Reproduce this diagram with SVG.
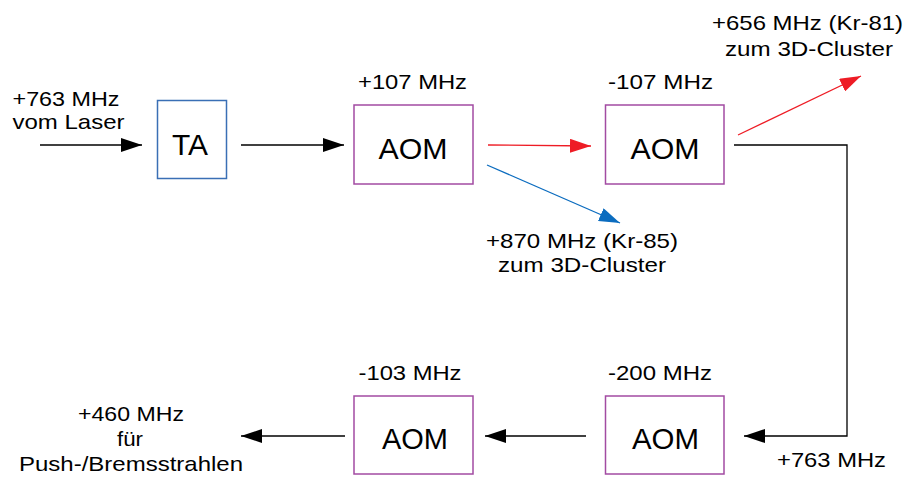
<svg xmlns="http://www.w3.org/2000/svg" width="906" height="477" viewBox="0 0 906 477">
<defs>
<style>
text{font-family:"Liberation Sans",Arial,sans-serif;fill:#000}
.lbl{font-size:21px}
.big{font-size:29px;text-anchor:middle}
.m{text-anchor:middle}
.aom{fill:#fff;stroke:#a24ba2;stroke-width:1.5}
.ta{fill:#fff;stroke:#3a6fb5;stroke-width:1.5}
.c{fill:none;stroke-width:1.3}
</style>
<marker id="ab" viewBox="0 0 21 14" refX="21" refY="7" markerWidth="21" markerHeight="14" markerUnits="userSpaceOnUse" orient="auto"><path d="M0,0 L21,7 L0,14 Z" fill="#000"/></marker>
<marker id="ar" viewBox="0 0 21 14" refX="21" refY="7" markerWidth="21" markerHeight="14" markerUnits="userSpaceOnUse" orient="auto"><path d="M0,0 L21,7 L0,14 Z" fill="#ee1c25"/></marker>
<marker id="au" viewBox="0 0 21 14" refX="21" refY="7" markerWidth="21" markerHeight="14" markerUnits="userSpaceOnUse" orient="auto"><path d="M0,0 L21,7 L0,14 Z" fill="#0b6cbf"/></marker>
</defs>
<g id="connectors">
<path class="c" stroke="#000" d="M40,145 L142,145" marker-end="url(#ab)"/>
<path class="c" stroke="#000" d="M241,145 L344,145" marker-end="url(#ab)"/>
<path class="c" stroke="#ee1c25" d="M488,145 L591,146" marker-end="url(#ar)"/>
<path class="c" stroke="#0b6cbf" d="M487,165 L620,223" marker-end="url(#au)"/>
<path class="c" stroke="#ee1c25" d="M738,135 L861,76" marker-end="url(#ar)"/>
<path class="c" stroke="#000" d="M734,145 L847,145 L847,436 L744,436" marker-end="url(#ab)"/>
<path class="c" stroke="#000" d="M586,436 L485,436" marker-end="url(#ab)"/>
<path class="c" stroke="#000" d="M345,436 L241,436" marker-end="url(#ab)"/>
</g>
<g id="input-label">
<text class="lbl" x="12.5" y="106" textLength="107" lengthAdjust="spacingAndGlyphs">+763 MHz</text>
<text class="lbl" x="12.5" y="129" textLength="112" lengthAdjust="spacingAndGlyphs">vom Laser</text>
</g>
<g id="ta">
<rect class="ta" x="157.5" y="100.5" width="69" height="78"/>
<text class="big" x="190" y="155" textLength="36" lengthAdjust="spacingAndGlyphs">TA</text>
</g>
<g id="aom1">
<rect class="aom" x="354" y="105" width="119" height="79"/>
<text class="big" x="413" y="159" textLength="69" lengthAdjust="spacingAndGlyphs">AOM</text>
<text class="lbl m" x="412.5" y="89" textLength="109" lengthAdjust="spacingAndGlyphs">+107 MHz</text>
</g>
<g id="aom2">
<rect class="aom" x="605.5" y="105" width="118.5" height="79"/>
<text class="big" x="665" y="159" textLength="69" lengthAdjust="spacingAndGlyphs">AOM</text>
<text class="lbl m" x="660.5" y="89" textLength="105" lengthAdjust="spacingAndGlyphs">-107 MHz</text>
</g>
<g id="out-kr81">
<text class="lbl m" x="807.5" y="30" textLength="191" lengthAdjust="spacingAndGlyphs">+656 MHz (Kr-81)</text>
<text class="lbl m" x="809" y="56" textLength="168" lengthAdjust="spacingAndGlyphs">zum 3D-Cluster</text>
</g>
<g id="out-kr85">
<text class="lbl m" x="582" y="248" textLength="192" lengthAdjust="spacingAndGlyphs">+870 MHz (Kr-85)</text>
<text class="lbl m" x="582" y="272" textLength="168" lengthAdjust="spacingAndGlyphs">zum 3D-Cluster</text>
</g>
<g id="aom4">
<rect class="aom" x="605.5" y="396" width="118.5" height="78"/>
<text class="big" x="665.5" y="449" textLength="67" lengthAdjust="spacingAndGlyphs">AOM</text>
<text class="lbl m" x="660" y="380" textLength="104" lengthAdjust="spacingAndGlyphs">-200 MHz</text>
</g>
<g id="aom3">
<rect class="aom" x="354" y="396" width="119" height="78"/>
<text class="big" x="415" y="449" textLength="66" lengthAdjust="spacingAndGlyphs">AOM</text>
<text class="lbl m" x="410" y="380" textLength="103" lengthAdjust="spacingAndGlyphs">-103 MHz</text>
</g>
<g id="label-763">
<text class="lbl" x="777" y="467" textLength="109" lengthAdjust="spacingAndGlyphs">+763 MHz</text>
</g>
<g id="out-push">
<text class="lbl m" x="131" y="421" textLength="106" lengthAdjust="spacingAndGlyphs">+460 MHz</text>
<text class="lbl m" x="130" y="446" textLength="26" lengthAdjust="spacingAndGlyphs">für</text>
<text class="lbl m" x="131" y="471" textLength="224" lengthAdjust="spacingAndGlyphs">Push-/Bremsstrahlen</text>
</g>
</svg>
